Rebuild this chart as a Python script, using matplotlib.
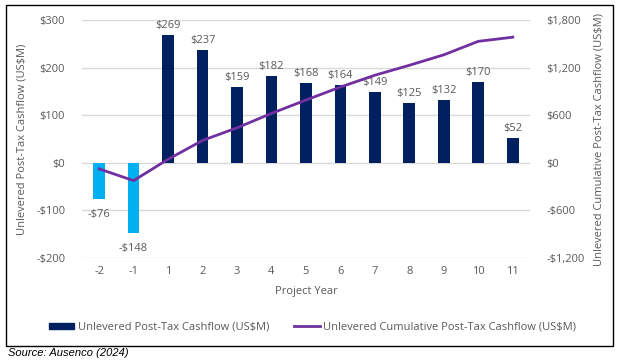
import matplotlib.pyplot as plt
from matplotlib.patches import Rectangle
from matplotlib.lines import Line2D
from matplotlib.ticker import FuncFormatter

plt.rcParams['font.family'] = ['Open Sans', 'DejaVu Sans']

years = ['-2', '-1', '1', '2', '3', '4', '5', '6', '7', '8', '9', '10', '11']
cashflow = [-76, -148, 269, 237, 159, 182, 168, 164, 149, 125, 132, 170, 52]
cumulative = [-76, -224, 45, 282, 441, 623, 791, 955, 1104, 1229, 1361, 1531, 1583]

navy = '#002060'
light_blue = '#00B0F0'
purple = '#7030A0'
grey = '#595959'

fig = plt.figure(figsize=(6.25, 3.63), dpi=100)
ax = fig.add_axes([0.131, 0.289, 0.717, 0.656])
ax2 = ax.twinx()

x = list(range(len(years)))
colors = [light_blue if v < 0 else navy for v in cashflow]
ax.bar(x, cashflow, width=0.34, color=colors, zorder=2)

for xi, v in zip(x, cashflow):
    label = '$%d' % v if v >= 0 else '-$%d' % abs(v)
    if v >= 0:
        ax.annotate(label, (xi, v), xytext=(0, 3), textcoords='offset points',
                    ha='center', va='bottom', fontsize=8, color=grey)
    else:
        ax.annotate(label, (xi, v), xytext=(0, -7), textcoords='offset points',
                    ha='center', va='top', fontsize=8, color=grey)

ax2.plot(x, cumulative, color=purple, linewidth=2, zorder=3)

ax.set_xlim(-0.5, len(years) - 0.5)
ax.set_ylim(-200, 300)
ax.set_yticks([-200, -100, 0, 100, 200, 300])
ax2.set_ylim(-1200, 1800)
ax2.set_yticks([-1200, -600, 0, 600, 1200, 1800])

def money(v, pos):
    v = int(round(v))
    return '$' + format(v, ',') if v >= 0 else '-$' + format(abs(v), ',')

ax.yaxis.set_major_formatter(FuncFormatter(money))
ax2.yaxis.set_major_formatter(FuncFormatter(money))

ax.set_xticks(x)
ax.set_xticklabels(years)
ax.grid(axis='y', color='#D9D9D9', linewidth=1, zorder=0)
ax.set_axisbelow(True)

for a in (ax, ax2):
    for s in a.spines.values():
        s.set_visible(False)
    a.tick_params(length=0, labelsize=8, labelcolor=grey)
ax.tick_params(axis='y', pad=12)
ax2.tick_params(axis='y', pad=12)
ax.tick_params(axis='x', pad=6)

ax.set_xlabel('Project Year', fontsize=8, color=grey, labelpad=6)
ax.set_ylabel('Unlevered Post-Tax Cashflow (US$M)', fontsize=8, color=grey, labelpad=6)
ax2.set_ylabel('Unlevered Cumulative Post-Tax Cashflow (US$M)', fontsize=8,
               color=grey, labelpad=6)

handles = [Rectangle((0, 0), 1, 1, color=navy),
           Line2D([0], [0], color=purple, linewidth=2)]
fig.legend(handles, ['Unlevered Post-Tax Cashflow (US$M)',
                     'Unlevered Cumulative Post-Tax Cashflow (US$M)'],
           loc='center', bbox_to_anchor=(0.5, 0.098), ncol=2, frameon=False,
           fontsize=8, labelcolor=grey, handlelength=2.3, handleheight=0.5,
           columnspacing=2.3, handletextpad=0.3)

fig.patches.append(Rectangle((6 / 625, 1 - 346 / 363), 607 / 625, 341 / 363,
                             transform=fig.transFigure, fill=False,
                             edgecolor='black', linewidth=1))
fig.text(8 / 625, 1 - 353 / 363, 'Source: Ausenco (2024)', fontsize=8,
         style='italic', va='center', ha='left', family=['Liberation Sans'])

fig.savefig('out.png', dpi=100)
